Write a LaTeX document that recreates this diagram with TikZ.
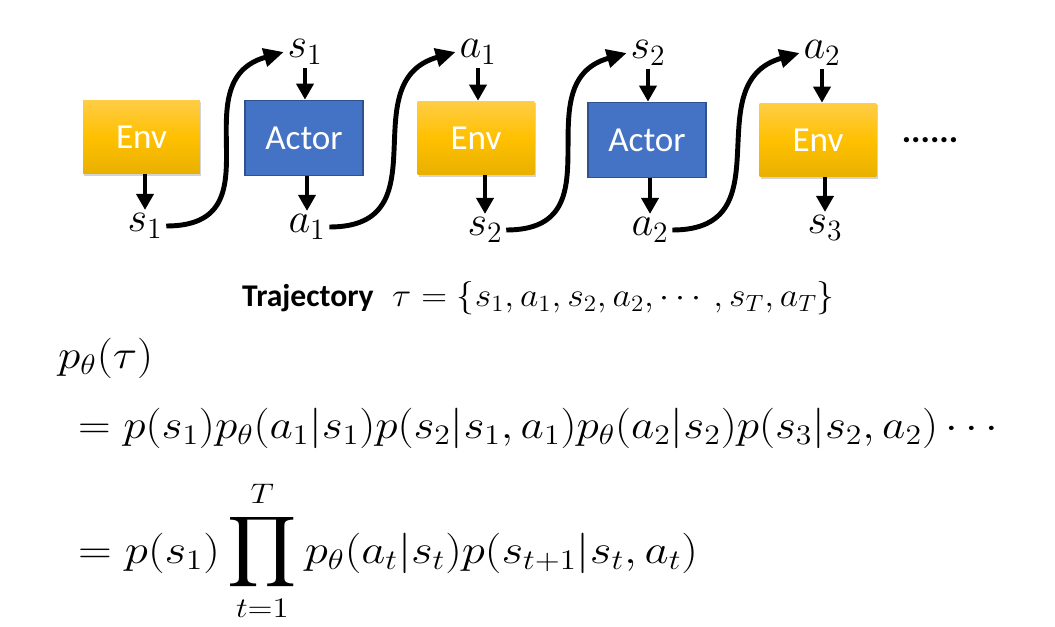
\RequirePackage{fix-cm}
\documentclass[tikz,border=0pt]{standalone}
\usepackage{amsmath}
\usepackage{exscale}
\usepackage{fontspec}
\usepackage{graphicx}
\setmainfont{Carlito}
\usetikzlibrary{arrows.meta,shadows}

\definecolor{envtop}{RGB}{255,205,70}
\definecolor{envmid}{RGB}{255,192,0}
\definecolor{envbot}{RGB}{232,176,0}
\definecolor{actorfill}{RGB}{68,114,196}
\definecolor{actorline}{RGB}{47,82,143}

\newcommand{\bigprod}{\mathop{\scalebox{1.07}[1.13]{$\displaystyle\prod$}}\limits}

\begin{document}
\begin{tikzpicture}[
        x=0.02cm, y=0.02cm,
        envbox/.style={
            rectangle,
            minimum width=2.34cm,
            minimum height=1.48cm,
            inner sep=0pt,
            top color=envtop, bottom color=envbot, middle color=envmid,
            drop shadow={opacity=0.35, shadow xshift=0.6pt, shadow yshift=-1.2pt},
            text=white,
            font=\fontsize{20}{24}\selectfont
        },
        actorbox/.style={
            rectangle,
            minimum width=2.36cm,
            minimum height=1.5cm,
            inner sep=0pt,
            fill=actorfill, draw=actorline, line width=1pt,
            text=white,
            font=\fontsize{20}{24}\selectfont
        },
        lbl/.style={inner sep=2pt, font=\fontsize{24}{28}\selectfont},
        formula/.style={anchor=base west, font=\fontsize{23}{27}\selectfont},
        feed/.style={-{Triangle[length=3.2mm,width=3.4mm]}, line width=2.2pt},
        pass/.style={-{Triangle[length=4mm,width=3.6mm]}, line width=2.8pt}
    ]

    \useasboundingbox (0,0) rectangle (1055,-626);

    \node[envbox] (env1) at (141.5,-137) {Env};
    \node[actorbox] (act1) at (304,-138) {Actor};
    \node[envbox] (env2) at (476,-138) {Env};
    \node[actorbox] (act2) at (647,-140) {Actor};
    \node[envbox] (env3) at (818,-140) {Env};
    \node[font=\fontsize{20}{24}\selectfont\bfseries] (more) at (930,-140) {......};

    \node[lbl] (s1b) at (145,-226) {$s_1$};
    \node[lbl] (s1t) at (305,-52) {$s_1$};
    \node[lbl] (a1b) at (307,-227) {$a_1$};
    \node[lbl] (a1t) at (478,-52) {$a_1$};
    \node[lbl] (s2b) at (485,-230) {$s_2$};
    \node[lbl] (s2t) at (648,-53) {$s_2$};
    \node[lbl] (a2b) at (650,-230) {$a_2$};
    \node[lbl] (a2t) at (822,-53) {$a_2$};
    \node[lbl] (s3b) at (825,-228) {$s_3$};

    \draw[feed] (s1b |- env1.south) -- (s1b);
    \draw[feed] (s1t) -- (s1t |- act1.north);
    \draw[feed] (a1b |- act1.south) -- (a1b);
    \draw[feed] (a1t) -- (a1t |- env2.north);
    \draw[feed] (s2b |- env2.south) -- (s2b);
    \draw[feed] (s2t) -- (s2t |- act2.north);
    \draw[feed] (a2b |- act2.south) -- (a2b);
    \draw[feed] (a2t) -- (a2t |- env3.north);
    \draw[feed] (s3b |- env3.south) -- (s3b);

    \draw[pass] (s1b.east) .. controls +(115,0) and +(-105,-30) .. (s1t.west);
    \draw[pass] (a1b.east) .. controls +(115,0) and +(-105,-30) .. (a1t.west);
    \draw[pass] (s2b.east) .. controls +(115,0) and +(-105,-30) .. (s2t.west);
    \draw[pass] (a2b.east) .. controls +(115,0) and +(-105,-30) .. (a2t.west);

    \node[anchor=base west, font=\fontsize{18}{22}\selectfont] (traj) at (236,-306)
        {\textbf{Trajectory}};
    \node[anchor=base west, font=\fontsize{19}{23}\selectfont] (tau) at (386,-306)
        {\scalebox{1.07}[1]{$\tau=\{s_1,a_1,s_2,a_2,\cdots,s_T,a_T\}$}};

    \node[formula] (ptau) at (52,-368)
        {\scalebox{1.12}[1]{$p_\theta(\tau)$}};
    \node[formula] (step1) at (72,-438)
        {\scalebox{1.12}[1]{$=p(s_1)p_\theta(a_1|s_1)p(s_2|s_1,a_1)p_\theta(a_2|s_2)p(s_3|s_2,a_2)\cdots$}};
    \node[formula] (step2) at (72,-563)
        {\scalebox{1.16}[1]{$\displaystyle=p(s_1)\bigprod_{t=1}^{T}p_\theta(a_t|s_t)p(s_{t+1}|s_t,a_t)$}};

\end{tikzpicture}
\end{document}
